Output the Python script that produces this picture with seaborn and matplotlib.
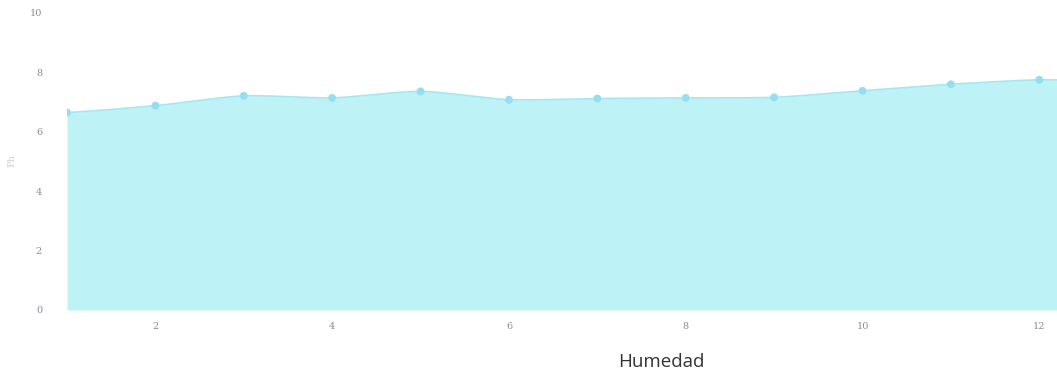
import numpy as np
import matplotlib
matplotlib.use("Agg")
import matplotlib.pyplot as plt
import seaborn as sns

# Humedad vs pH readings
humedad = [1, 2, 3, 4, 5, 6, 7, 8, 9, 10, 11, 12]
ph = [6.65, 6.88, 7.21, 7.14, 7.36, 7.08, 7.12, 7.14, 7.16, 7.38, 7.60, 7.75]
x_ticks = [2, 4, 6, 8, 10, 12]
y_ticks = [0, 2, 4, 6, 8, 10]

sns.set_theme(style="white")

fill_color = "#bdf2f6"
point_color = "#95def1"
tick_color = "#8a8a9a"


def smooth(xs, ys, tension=0.35, steps=30):
    """Cardinal spline through the points, for a soft curve outline."""
    xs = np.asarray(xs, float)
    ys = np.asarray(ys, float)
    px = np.concatenate([[2 * xs[0] - xs[1]], xs, [2 * xs[-1] - xs[-2]]])
    py = np.concatenate([[ys[0]], ys, [ys[-1]]])
    out_x, out_y = [], []
    for i in range(1, len(px) - 2):
        t = np.linspace(0, 1, steps, endpoint=False)
        m0x = tension * (px[i + 1] - px[i - 1])
        m1x = tension * (px[i + 2] - px[i])
        m0y = tension * (py[i + 1] - py[i - 1])
        m1y = tension * (py[i + 2] - py[i])
        h00 = 2 * t**3 - 3 * t**2 + 1
        h10 = t**3 - 2 * t**2 + t
        h01 = -2 * t**3 + 3 * t**2
        h11 = t**3 - t**2
        out_x.append(h00 * px[i] + h10 * m0x + h01 * px[i + 1] + h11 * m1x)
        out_y.append(h00 * py[i] + h10 * m0y + h01 * py[i + 1] + h11 * m1y)
    out_x.append([xs[-1]])
    out_y.append([ys[-1]])
    return np.concatenate(out_x), np.concatenate(out_y)


fig = plt.figure(figsize=(10.57, 3.78), dpi=100)
ax = fig.add_axes([0.0634, 0.18, 0.9366, 0.7857])

x_max = 12.2
sx, sy = smooth(humedad, ph)
sx = np.append(sx, x_max)
sy = np.append(sy, ph[-1])

ax.fill_between(sx, 0, sy, color=fill_color, linewidth=0, zorder=1)
ax.plot(sx, sy, color="#a6e6f2", linewidth=1.2, zorder=2)
sns.scatterplot(x=humedad, y=ph, ax=ax, color=point_color, s=32,
                edgecolor="none", zorder=3, legend=False)

ax.set_xlim(1, x_max)
ax.set_ylim(0, 10)
ax.set_xticks(x_ticks)
ax.set_yticks(y_ticks)
ax.grid(False)
for s in ax.spines.values():
    s.set_visible(False)

ax.tick_params(axis="x", length=0, pad=9, labelsize=7, labelcolor=tick_color)
ax.tick_params(axis="y", length=0, pad=18, labelsize=7, labelcolor=tick_color)
for lab in ax.get_xticklabels() + ax.get_yticklabels():
    lab.set_family("DejaVu Serif")

ax.set_xlabel("")
ax.set_ylabel("")
fig.text(0.626, 0.042, "Humedad", ha="center", va="center",
         fontsize=13.5, color="#333333", family="Open Sans")
fig.text(0.011, 0.575, "Ph", ha="center", va="center", rotation=90,
         fontsize=7, color="#cfcfda", family="DejaVu Serif")

fig.savefig("out.png", dpi=100, facecolor="white")
